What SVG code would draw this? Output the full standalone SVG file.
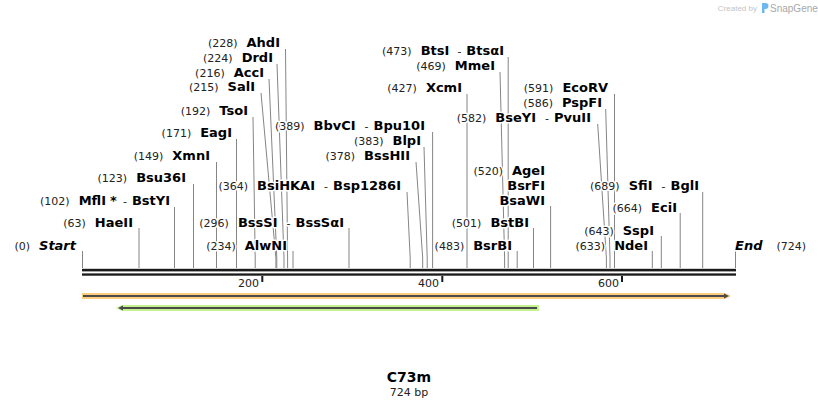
<svg xmlns="http://www.w3.org/2000/svg" width="818" height="408" viewBox="0 0 818 408">
<style>
text{font-family:"DejaVu Sans",Verdana,sans-serif;stroke:#fff;stroke-width:3;paint-order:stroke;stroke-linejoin:round}
.n{font-size:11px;fill:#222}
.e{font-size:13px;font-weight:bold;fill:#000}
.i{font-style:italic}
.cut{fill:none;stroke:#858585;stroke-width:1}
.tick{font-size:11px;fill:#222;stroke:none}
</style>
<rect width="818" height="408" fill="#fff"/>
<g id="connectors">
<polyline class="cut" points="82.5,251 82.5,268"/>
<polyline class="cut" points="139,228 139,268"/>
<polyline class="cut" points="174.5,207 174.5,268"/>
<polyline class="cut" points="193.5,184 193.5,268"/>
<polyline class="cut" points="216.5,162 216.5,268"/>
<polyline class="cut" points="236.5,139 236.5,268"/>
<polyline class="cut" points="253,117 255.2,258 255.2,268"/>
<polyline class="cut" points="261,93 275.9,258 275.9,268"/>
<polyline class="cut" points="269,79 276.8,258 276.8,268"/>
<polyline class="cut" points="277,64 284,258 284,268"/>
<polyline class="cut" points="285.5,49 287.6,258 287.6,268"/>
<polyline class="cut" points="293,251 293,268"/>
<polyline class="cut" points="349,228 349,268"/>
<polyline class="cut" points="407,192 410.2,258 410.2,268"/>
<polyline class="cut" points="416,162 422.7,258 422.7,268"/>
<polyline class="cut" points="424,147 427.2,258 427.2,268"/>
<polyline class="cut" points="432.6,132 432.6,268"/>
<polyline class="cut" points="467,94 467,268"/>
<polyline class="cut" points="500,72 504.6,258 504.6,268"/>
<polyline class="cut" points="508.2,57 508.2,268"/>
<polyline class="cut" points="517.2,251 517.2,268"/>
<polyline class="cut" points="533.5,228 533.5,268"/>
<polyline class="cut" points="550.6,206 550.6,268"/>
<polyline class="cut" points="597.7,124 606.4,258 606.4,268"/>
<polyline class="cut" points="605.7,109 610,258 610,268"/>
<polyline class="cut" points="614.5,94 614.5,268"/>
<polyline class="cut" points="652.3,251 652.3,268"/>
<polyline class="cut" points="661.3,236 661.3,268"/>
<polyline class="cut" points="680.2,213 680.2,268"/>
<polyline class="cut" points="702.7,192 702.7,268"/>
<polyline class="cut" points="735.5,251 735.5,268"/>
</g>
<g id="backbone">
<rect x="82" y="268.8" width="654" height="2.6" fill="#1a1a1a"/>
<rect x="82" y="273.4" width="654" height="2.3" fill="#1a1a1a"/>
<rect x="261.3" y="276" width="2" height="6" fill="#1a1a1a"/>
<rect x="441.3" y="276" width="2" height="6" fill="#1a1a1a"/>
<rect x="621" y="276" width="2" height="6" fill="#1a1a1a"/>
<text class="tick" x="259" y="287" text-anchor="end">200</text>
<text class="tick" x="439" y="287" text-anchor="end">400</text>
<text class="tick" x="619" y="287" text-anchor="end">600</text>
</g>
<g id="site-Start"><text x="76" y="249.5" text-anchor="end"><tspan class="n">(0)</tspan><tspan class="e i" dx="9">Start</tspan></text></g>
<g id="site-HaeII"><text x="133" y="226.5" text-anchor="end"><tspan class="n">(63)</tspan><tspan class="e" dx="9">HaeII</tspan></text></g>
<g id="site-MflI"><text x="170" y="204.5" text-anchor="end"><tspan class="n">(102)</tspan><tspan class="e" dx="9">MflI</tspan><tspan class="e" dx="4">*</tspan><tspan class="n" dx="6">-</tspan><tspan class="e" dx="5">BstYI</tspan></text></g>
<g id="site-Bsu36I"><text x="186" y="181.5" text-anchor="end"><tspan class="n">(123)</tspan><tspan class="e" dx="9">Bsu36I</tspan></text></g>
<g id="site-XmnI"><text x="210" y="159.5" text-anchor="end"><tspan class="n">(149)</tspan><tspan class="e" dx="9">XmnI</tspan></text></g>
<g id="site-EagI"><text x="232" y="136.5" text-anchor="end"><tspan class="n">(171)</tspan><tspan class="e" dx="9">EagI</tspan></text></g>
<g id="site-TsoI"><text x="248" y="114.5" text-anchor="end"><tspan class="n">(192)</tspan><tspan class="e" dx="9">TsoI</tspan></text></g>
<g id="site-SalI"><text x="255" y="90.5" text-anchor="end"><tspan class="n">(215)</tspan><tspan class="e" dx="9">SalI</tspan></text></g>
<g id="site-AccI"><text x="264" y="76.5" text-anchor="end"><tspan class="n">(216)</tspan><tspan class="e" dx="9">AccI</tspan></text></g>
<g id="site-DrdI"><text x="273" y="61.5" text-anchor="end"><tspan class="n">(224)</tspan><tspan class="e" dx="9">DrdI</tspan></text></g>
<g id="site-AhdI"><text x="280" y="46.5" text-anchor="end"><tspan class="n">(228)</tspan><tspan class="e" dx="9">AhdI</tspan></text></g>
<g id="site-AlwNI"><text x="287" y="249.5" text-anchor="end"><tspan class="n">(234)</tspan><tspan class="e" dx="9">AlwNI</tspan></text></g>
<g id="site-BssSI"><text x="344" y="226.5" text-anchor="end"><tspan class="n">(296)</tspan><tspan class="e" dx="9">BssSI</tspan><tspan class="n" dx="9">-</tspan><tspan class="e" dx="5">BssSαI</tspan></text></g>
<g id="site-BsiHKAI"><text x="401" y="189.5" text-anchor="end"><tspan class="n">(364)</tspan><tspan class="e" dx="9">BsiHKAI</tspan><tspan class="n" dx="9">-</tspan><tspan class="e" dx="5">Bsp1286I</tspan></text></g>
<g id="site-BssHII"><text x="410" y="159.5" text-anchor="end"><tspan class="n">(378)</tspan><tspan class="e" dx="9">BssHII</tspan></text></g>
<g id="site-BlpI"><text x="421" y="144.5" text-anchor="end"><tspan class="n">(383)</tspan><tspan class="e" dx="9">BlpI</tspan></text></g>
<g id="site-BbvCI"><text x="425" y="129.5" text-anchor="end"><tspan class="n">(389)</tspan><tspan class="e" dx="9">BbvCI</tspan><tspan class="n" dx="9">-</tspan><tspan class="e" dx="5">Bpu10I</tspan></text></g>
<g id="site-XcmI"><text x="462" y="91.5" text-anchor="end"><tspan class="n">(427)</tspan><tspan class="e" dx="9">XcmI</tspan></text></g>
<g id="site-MmeI"><text x="495" y="69.5" text-anchor="end"><tspan class="n">(469)</tspan><tspan class="e" dx="9">MmeI</tspan></text></g>
<g id="site-BtsI"><text x="504" y="54.5" text-anchor="end"><tspan class="n">(473)</tspan><tspan class="e" dx="9">BtsI</tspan><tspan class="n" dx="8">-</tspan><tspan class="e" dx="5">BtsαI</tspan></text></g>
<g id="site-BsrBI"><text x="512" y="249.5" text-anchor="end"><tspan class="n">(483)</tspan><tspan class="e" dx="9">BsrBI</tspan></text></g>
<g id="site-BstBI"><text x="529" y="226.5" text-anchor="end"><tspan class="n">(501)</tspan><tspan class="e" dx="9">BstBI</tspan></text></g>
<g id="site-AgeI"><text x="545" y="174.5" text-anchor="end"><tspan class="n">(520)</tspan><tspan class="e" dx="9">AgeI</tspan></text></g>
<g id="site-BsrFI"><text x="545" y="189.5" text-anchor="end"><tspan class="e">BsrFI</tspan></text></g>
<g id="site-BsaWI"><text x="545" y="204.5" text-anchor="end"><tspan class="e">BsaWI</tspan></text></g>
<g id="site-BseYI"><text x="591" y="121.5" text-anchor="end"><tspan class="n">(582)</tspan><tspan class="e" dx="9">BseYI</tspan><tspan class="n" dx="9">-</tspan><tspan class="e" dx="5">PvuII</tspan></text></g>
<g id="site-PspFI"><text x="602" y="106.5" text-anchor="end"><tspan class="n">(586)</tspan><tspan class="e" dx="9">PspFI</tspan></text></g>
<g id="site-EcoRV"><text x="608" y="91.5" text-anchor="end"><tspan class="n">(591)</tspan><tspan class="e" dx="9">EcoRV</tspan></text></g>
<g id="site-NdeI"><text x="648" y="249.5" text-anchor="end"><tspan class="n">(633)</tspan><tspan class="e" dx="9">NdeI</tspan></text></g>
<g id="site-SspI"><text x="654" y="234.5" text-anchor="end"><tspan class="n">(643)</tspan><tspan class="e" dx="9">SspI</tspan></text></g>
<g id="site-EciI"><text x="677" y="211.5" text-anchor="end"><tspan class="n">(664)</tspan><tspan class="e" dx="9">EciI</tspan></text></g>
<g id="site-SfiI"><text x="699" y="189.5" text-anchor="end"><tspan class="n">(689)</tspan><tspan class="e" dx="9">SfiI</tspan><tspan class="n" dx="9">-</tspan><tspan class="e" dx="5">BglI</tspan></text></g>
<g id="site-End"><text x="735" y="249.5"><tspan class="e i">End</tspan><tspan class="n" dx="14">(724)</tspan></text></g>
<g id="feature-orange">
<polygon points="82,293 725,293 731,296 725,299 82,299" fill="#fbcb7e"/>
<line x1="83" y1="296" x2="726" y2="296" stroke="#4a4a4a" stroke-width="2"/>
<polygon points="724,293.5 729,296 724,298.5" fill="#4a4a4a"/>
</g>
<g id="feature-green">
<polygon points="116,308 122,305 539,305 539,311 122,311" fill="#c3f28e"/>
<line x1="121" y1="308" x2="537" y2="308" stroke="#4a4a4a" stroke-width="2"/>
<polygon points="123,305.5 118,308 123,310.5" fill="#4a4a4a"/>
</g>
<g id="title">
<text x="409" y="382" text-anchor="middle" style="font-size:14px;font-weight:bold;fill:#000;stroke:none">C73m</text>
<text x="409" y="396" text-anchor="middle" style="font-size:11px;fill:#222;stroke:none">724 bp</text>
</g>
<g id="credit">
<text x="757" y="11" text-anchor="end" style="font-family:'Liberation Sans',Arial,sans-serif;font-size:8px;fill:#c4c4c4;stroke:none">Created by</text>
<path d="M762,3 h3.5 a3,3 0 0 1 0,6 h-1 v4 h-2.5 z" fill="#6cb8ef"/>
<text x="770" y="12" style="font-family:'Liberation Sans',Arial,sans-serif;font-size:10px;fill:#a8a8a8;stroke:none">SnapGene</text>
</g>
</svg>
